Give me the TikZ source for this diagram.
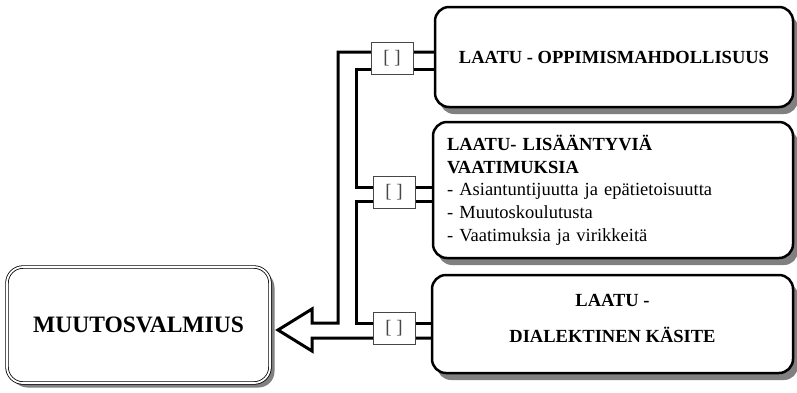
\documentclass[tikz,border=0pt]{standalone}
\usepackage{fontspec}
\setmainfont{Liberation Serif}
\usetikzlibrary{shadows,backgrounds}
\definecolor{shade}{RGB}{128,128,128}
\definecolor{tagline}{RGB}{70,70,70}
\tikzset{
  topic/.style={draw, line width=2.5pt, rounded corners=14pt, fill=white,
    drop shadow={shadow xshift=5pt, shadow yshift=-7pt, fill=shade, opacity=1},
    font=\fontsize{18.5}{22.7}\selectfont},
  core/.style={draw, double, double distance=1.8pt, line width=0.8pt,
    rounded corners=16pt, fill=white,
    drop shadow={shadow xshift=4.5pt, shadow yshift=-4.5pt, fill=shade, opacity=1},
    font=\fontsize{23.5}{28}\selectfont\bfseries},
  tag/.style={draw=tagline, line width=0.9pt, fill=white, minimum width=42pt,
    minimum height=32pt, inner sep=0pt, text=tagline,
    font=\fontsize{19}{22}\selectfont},
  bus/.style={line width=3pt, miter limit=10}
}
\begin{document}
\begin{tikzpicture}[x=1pt,y=-1pt]
\useasboundingbox (0,0) rectangle (797,392);

% topic boxes on the right
\node[topic, minimum width=358pt, minimum height=100pt, font=\fontsize{18.5}{22.7}\selectfont\bfseries]
  (b1) at (614,57) {LAATU - OPPIMISMAHDOLLISUUS};
\node[topic, minimum width=360pt, minimum height=136pt, text width=332pt,
  inner xsep=14pt, align=left] (b2) at (613,190)
  {\textbf{LAATU- LISÄÄNTYVIÄ}\\
   \textbf{VAATIMUKSIA}\\
   - Asiantuntijuutta ja epätietoisuutta\\
   - Muutoskoulutusta\\
   - Vaatimuksia ja virikkeitä};
\node[topic, minimum width=361pt, minimum height=98pt, align=center,
  font=\fontsize{18.5}{22.7}\selectfont\bfseries] (b3) at (612.5,324)
  {LAATU -\\[13pt]DIALEKTINEN KÄSITE\\[-12pt]\mbox{}};

% central concept
\node[core, minimum width=263pt, minimum height=116pt] (main) at (138.5,325)
  {MUUTOSVALMIUS};

% connector tags
\node[tag] (s1) at (392,58) {[ ]};
\node[tag] (s2) at (394,192) {[ ]};
\node[tag] (s3) at (394,328) {[ ]};

% double-line bus ending in a hollow arrow towards the central concept
\coordinate (tip) at (278,330);
\begin{scope}[on background layer]
  \draw[bus] ([yshift=5pt]b1.west) -| (338,323) -- (312,323) -- (312,309)
    -- (tip) -- (312,351) -- (312,338) -- ([yshift=-14pt]b3.west);
  \draw[bus] ([yshift=-12pt]b1.west) -| (356,187) -- ([yshift=3pt]b2.west);
  \draw[bus] ([yshift=-11pt]b2.west) -| (356,323) -- ([yshift=1pt]b3.west);
\end{scope}
\end{tikzpicture}
\end{document}
